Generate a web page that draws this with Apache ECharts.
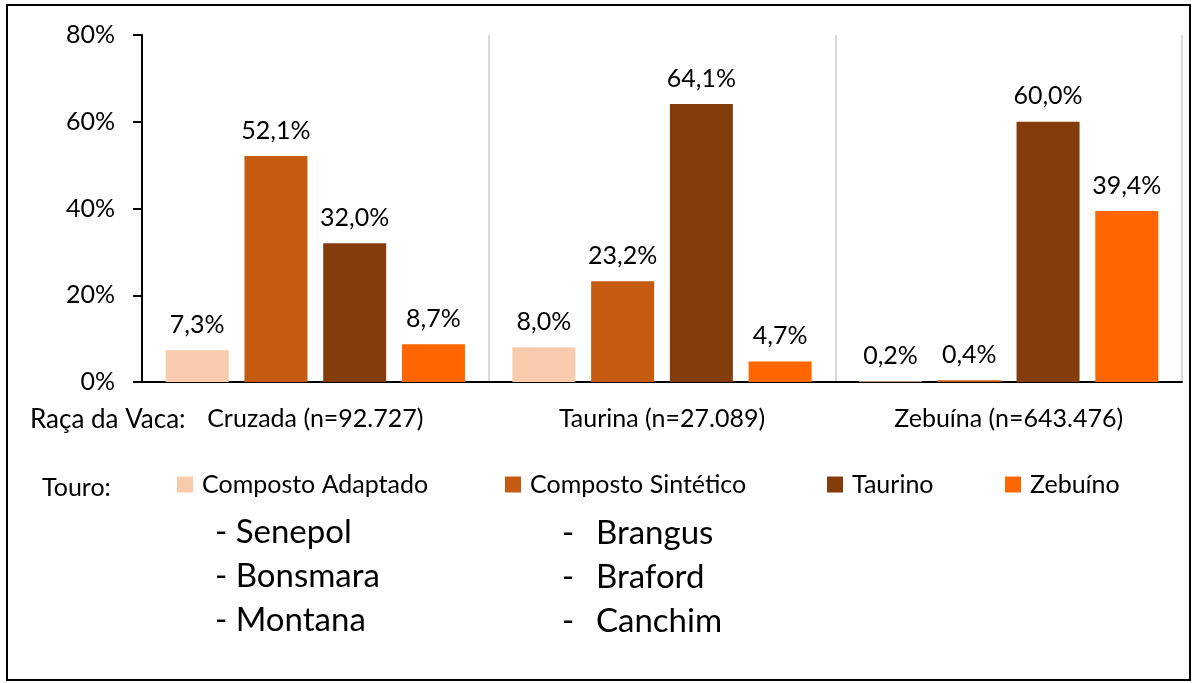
<!DOCTYPE html>
<html>
<head>
<meta charset="utf-8">
<title>Raça da Vaca x Touro</title>
<script src="https://cdn.jsdelivr.net/npm/echarts@6/dist/echarts.min.js"></script>
<style>
  html, body { margin: 0; padding: 0; background: #fff; }
  #main { width: 1198px; height: 683px; }
</style>
</head>
<body>
<div id="main"></div>
<script>
// categorias (raça da vaca)
var categorias = ['Cruzada (n=92.727)', 'Taurina (n=27.089)', 'Zebuína (n=643.476)'];
// touro
var nomesSeries = ['Composto Adaptado', 'Composto Sintético', 'Taurino', 'Zebuíno'];
var adaptado = [7.3, 8.0, 0.2];
var sintetico = [52.1, 23.2, 0.4];
var taurino = [32.0, 64.1, 60.0];
var zebuino = [8.7, 4.7, 39.4];
var cores = ['#F8CBAD', '#C55A11', '#843C0C', '#FF6600'];
var yTicks = [0, 20, 40, 60, 80];
var listaAdaptado = ['- Senepol', '- Bonsmara', '- Montana'];
var listaSintetico = ['Brangus', 'Braford', 'Canchim'];

var fonte = 'Lato, "Open Sans", sans-serif';
var tam = 25;

function pct(v) {
    return v.toFixed(1).replace('.', ',') + '%';
}

function serie(nome, dados, cor) {
    return {
        name: nome,
        type: 'bar',
        data: dados,
        barWidth: 63,
        barGap: '25%',
        itemStyle: { color: cor },
        label: {
            show: true,
            position: 'top',
            distance: 13,
            color: '#000',
            fontSize: tam,
            fontFamily: fonte,
            formatter: function (p) { return pct(p.value); }
        }
    };
}

function texto(t, x, y, tamanho) {
    return { type: 'text', x: x, y: y, silent: true,
        style: { text: t, fontSize: tamanho, fontFamily: fonte, fill: '#000', verticalAlign: 'middle' } };
}

var graficos = [
    // moldura
    { type: 'rect', shape: { x: 7, y: 5, width: 1183, height: 675 },
      style: { fill: 'none', stroke: '#000', lineWidth: 2 }, silent: true },
    texto('Raça da Vaca:', 30, 420, tam + 1),
    texto('Touro:', 42, 488, tam)
];
// listas de raças
listaAdaptado.forEach(function (t, i) {
    graficos.push(texto(t, 215, 532 + i * 44, 33));
});
listaSintetico.forEach(function (t, i) {
    graficos.push(texto('-', 562, 533 + i * 44, 33));
    graficos.push(texto(t, 596, 533 + i * 44, 33));
});

// uma legenda por item para manter as posições
var legendLefts = [172, 500, 822, 1000];
var legendas = nomesSeries.map(function (n, i) {
    return {
        data: [n],
        left: legendLefts[i],
        top: 467,
        icon: 'rect',
        itemWidth: 16,
        itemHeight: 16,
        textStyle: { color: '#000', fontSize: tam, fontFamily: fonte, padding: [0, 0, 0, 4] }
    };
});

var myChart = echarts.init(document.getElementById('main'));
var option = {
    animation: false,
    color: cores,
    grid: { left: 142, right: 16, top: 35, bottom: 301 },
    legend: legendas,
    xAxis: {
        type: 'category',
        data: categorias,
        axisTick: { show: false },
        axisLine: { lineStyle: { color: '#000', width: 2 } },
        axisLabel: { color: '#000', fontSize: tam, fontFamily: fonte, margin: 24 },
        splitLine: { show: true, lineStyle: { color: '#d9d9d9', width: 2 } }
    },
    yAxis: {
        type: 'value',
        min: yTicks[0],
        max: yTicks[yTicks.length - 1],
        interval: 20,
        axisLine: { show: true, lineStyle: { color: '#000', width: 2 } },
        axisTick: { show: true, length: 9, lineStyle: { color: '#000', width: 2 } },
        axisLabel: { color: '#000', fontSize: tam, fontFamily: fonte, margin: 27,
                     formatter: function (v) { return v + '%'; } },
        splitLine: { show: false }
    },
    graphic: graficos,
    series: [
        serie(nomesSeries[0], adaptado, cores[0]),
        serie(nomesSeries[1], sintetico, cores[1]),
        serie(nomesSeries[2], taurino, cores[2]),
        serie(nomesSeries[3], zebuino, cores[3])
    ]
};
myChart.setOption(option);
</script>
</body>
</html>
